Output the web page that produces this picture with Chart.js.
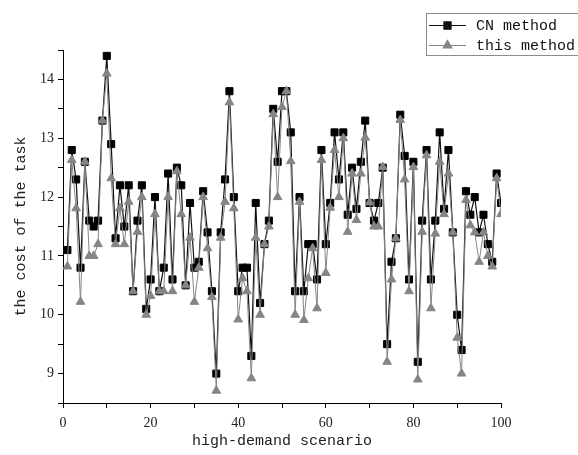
<!DOCTYPE html>
<html>
<head>
<meta charset="utf-8">
<script src="https://cdn.jsdelivr.net/npm/chart.js@4"></script>
<style>
  html, body { margin: 0; padding: 0; background: #fff; }
  #wrap { width: 578px; height: 455px; position: relative; }
</style>
</head>
<body>
<div id="wrap"><canvas id="grafico" width="578" height="455"></canvas></div>
<script>
// scenario index 1..100
const cenarios = Array.from({ length: 100 }, (_, i) => i + 1);

const cnMethod = [
  11.1, 12.8, 12.3, 10.8, 12.6, 11.6, 11.5, 11.6, 13.3, 14.4,
  12.9, 11.3, 12.2, 11.5, 12.2, 10.4, 11.6, 12.2, 10.1, 10.6,
  12.0, 10.4, 10.8, 12.4, 10.6, 12.5, 12.2, 10.5, 11.9, 10.8,
  10.9, 12.1, 11.4, 10.4, 9.0, 11.4, 12.3, 13.8, 12.0, 10.4,
  10.8, 10.8, 9.3, 11.9, 10.2, 11.2, 11.6, 13.5, 12.6, 13.8,
  13.8, 13.1, 10.4, 12.0, 10.4, 11.2, 11.2, 10.6, 12.8, 11.2,
  11.9, 13.1, 12.3, 13.1, 11.7, 12.5, 11.8, 12.6, 13.3, 11.9,
  11.6, 11.9, 12.5, 9.5, 10.9, 11.3, 13.4, 12.7, 10.6, 12.6,
  9.2, 11.6, 12.8, 10.6, 11.6, 13.1, 11.8, 12.8, 11.4, 10.0,
  9.4, 12.1, 11.7, 12.0, 11.4, 11.7, 11.2, 10.9, 12.4, 11.9
];

const thisMethod = [
  10.82, 12.63, 11.81, 10.22, 12.6, 11.0, 11.0, 11.2, 13.3, 14.1,
  12.32, 11.2, 11.81, 11.2, 11.92, 10.4, 11.41, 12.0, 10.0, 10.32,
  11.71, 10.4, 10.4, 12.0, 10.4, 12.44, 11.71, 10.5, 11.31, 10.22,
  10.8, 12.0, 11.13, 10.3, 8.71, 11.31, 11.92, 13.61, 11.81, 9.92,
  10.62, 10.4, 8.92, 11.31, 10.0, 11.2, 11.5, 13.41, 12.0, 13.53,
  13.8, 12.61, 10.0, 11.92, 9.91, 10.62, 11.13, 10.11, 12.63, 10.71,
  11.82, 12.8, 12.0, 13.0, 11.41, 12.4, 11.61, 12.4, 13.01, 11.91,
  11.5, 11.5, 12.51, 9.2, 10.6, 11.3, 13.31, 12.3, 10.4, 12.51,
  8.9, 11.41, 12.71, 10.11, 11.38, 12.6, 11.71, 12.4, 11.4, 9.61,
  9.0, 11.95, 11.52, 11.4, 10.9, 11.4, 11.0, 10.82, 12.32, 11.71
];

const xTicks = [0, 20, 40, 60, 80, 100];
const yTicks = [9, 10, 11, 12, 13, 14];

const corCN = '#111111';
const corThis = '#858585';

// legenda com linha + marcador, como no Origin
const legendaPlugin = {
  id: 'legendaOrigin',
  afterDraw(chart) {
    const ctx = chart.ctx;
    ctx.save();
    ctx.strokeStyle = '#8c8c8c';
    ctx.lineWidth = 1;
    ctx.strokeRect(426.5, 13.5, 160, 42);

    const linhas = [
      { y: 25, cor: corCN, estilo: 'rect', texto: chart.data.datasets[0].label },
      { y: 45, cor: corThis, estilo: 'triangle', texto: chart.data.datasets[1].label }
    ];
    linhas.forEach(l => {
      ctx.strokeStyle = l.cor;
      ctx.lineWidth = 1.2;
      ctx.beginPath();
      ctx.moveTo(429, l.y + 0.5);
      ctx.lineTo(466, l.y + 0.5);
      ctx.stroke();
      ctx.fillStyle = l.cor;
      Chart.helpers.drawPoint(ctx, { pointStyle: l.estilo, radius: 5, borderWidth: 1 }, 447.5, l.y + 0.5);
      ctx.fill();
      ctx.fillStyle = '#111';
      ctx.font = '15px "Liberation Mono", monospace';
      ctx.textBaseline = 'middle';
      ctx.textAlign = 'left';
      ctx.fillText(l.texto, 476, l.y + 1);
    });
    ctx.restore();
  }
};

const fonteTick = { family: '"Liberation Serif", serif', size: 14 };
const fonteTitulo = { family: '"Liberation Mono", monospace', size: 15 };

new Chart(document.getElementById('grafico').getContext('2d'), {
  type: 'line',
  data: {
    datasets: [
      {
        label: 'CN method',
        data: cenarios.map((x, i) => ({ x, y: cnMethod[i] })),
        borderColor: corCN,
        backgroundColor: '#000',
        borderWidth: 1.2,
        pointStyle: 'rect',
        pointRadius: 5,
        pointBorderWidth: 1,
        pointBorderColor: '#000',
        pointBackgroundColor: '#000',
        order: 2
      },
      {
        label: 'this method',
        data: cenarios.map((x, i) => ({ x, y: thisMethod[i] })),
        borderColor: corThis,
        backgroundColor: corThis,
        borderWidth: 1,
        pointStyle: 'triangle',
        pointRadius: 5,
        pointBorderWidth: 1,
        pointBorderColor: corThis,
        pointBackgroundColor: corThis,
        order: 1
      }
    ]
  },
  options: {
    responsive: false,
    animation: false,
    layout: { padding: { left: 0, right: 77, top: 50, bottom: 0 } },
    plugins: {
      legend: { display: false },
      tooltip: { enabled: false }
    },
    scales: {
      x: {
        type: 'linear',
        min: 0,
        max: 100,
        afterFit: s => { s.height = 52; },
        grid: { drawOnChartArea: false, drawTicks: true, tickLength: 5, color: '#000' },
        border: { display: true, color: '#000', width: 1 },
        ticks: {
          stepSize: 10,
          padding: 7,
          color: '#222',
          font: fonteTick,
          maxRotation: 0,
          callback: v => xTicks.includes(v) ? String(v) : ''
        },
        title: {
          display: true,
          text: 'high-demand scenario',
          color: '#222',
          font: fonteTitulo,
          padding: { top: 0, bottom: 5 }
        }
      },
      y: {
        min: 8.5,
        max: 14.5,
        afterFit: s => { s.width = 63; },
        grid: { drawOnChartArea: false, drawTicks: true, tickLength: 5, color: '#000' },
        border: { display: true, color: '#000', width: 1 },
        ticks: {
          stepSize: 0.5,
          padding: 4,
          color: '#222',
          font: fonteTick,
          callback: v => yTicks.includes(v) ? String(v) : ''
        },
        title: {
          display: true,
          text: 'the cost of the task',
          color: '#222',
          font: fonteTitulo,
          padding: { top: 12, bottom: 0 }
        }
      }
    }
  },
  plugins: [legendaPlugin]
});
</script>
</body>
</html>
